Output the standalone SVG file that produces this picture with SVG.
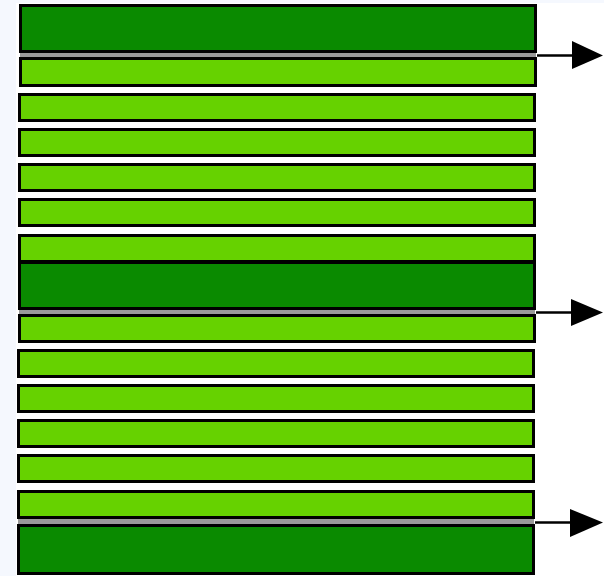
<svg xmlns="http://www.w3.org/2000/svg" width="604" height="576" viewBox="0 0 604 576">
<style>
.lt{fill:#66d200;stroke:#000;stroke-width:3}
.dk{fill:#0a8a00;stroke:#000;stroke-width:3}
.gr{fill:#999;stroke:none}
.ln{stroke:#000;stroke-width:2.5;fill:none}
.ah{fill:#000}
</style>
<rect x="0" y="0" width="604" height="576" fill="#f5f8fe"/>
<rect x="16" y="3" width="588" height="573" fill="#fff"/>
<g id="block1">
<rect class="dk" x="20.5" y="5.5" width="515" height="46"/>
<rect class="gr" x="20" y="53" width="516" height="4"/>
<rect class="lt" x="20.5" y="58.5" width="515" height="27"/>
</g>
<g id="bar2"><rect class="lt" x="19.5" y="94.5" width="515" height="26"/></g>
<g id="bar3"><rect class="lt" x="19.5" y="129.5" width="515" height="26"/></g>
<g id="bar4"><rect class="lt" x="19.5" y="164.5" width="515" height="26"/></g>
<g id="bar5"><rect class="lt" x="19.5" y="199.5" width="515" height="26"/></g>
<g id="block2">
<rect class="lt" x="19.5" y="235.5" width="515" height="26"/>
<rect class="dk" x="19.5" y="262.5" width="515" height="46"/>
<rect class="gr" x="19" y="310" width="516" height="4"/>
<rect class="lt" x="19.5" y="315.5" width="515" height="26"/>
</g>
<g id="bar7"><rect class="lt" x="18.5" y="350.5" width="515" height="26"/></g>
<g id="bar8"><rect class="lt" x="18.5" y="385.5" width="515" height="26"/></g>
<g id="bar9"><rect class="lt" x="18.5" y="420.5" width="515" height="26"/></g>
<g id="bar10"><rect class="lt" x="18.5" y="455.5" width="515" height="26"/></g>
<g id="block3">
<rect class="lt" x="18.5" y="491.5" width="515" height="26"/>
<rect class="gr" x="18" y="519" width="516" height="5"/>
<rect class="dk" x="18.5" y="525.5" width="515" height="48"/>
</g>
<g id="connectors">
<line class="ln" x1="537" y1="55.5" x2="574" y2="55.5"/>
<polygon class="ah" points="572,41 603,55.5 572,69"/>
<line class="ln" x1="536" y1="312.5" x2="573" y2="312.5"/>
<polygon class="ah" points="571,299 603,312.5 571,326"/>
<line class="ln" x1="535" y1="522.5" x2="572" y2="522.5"/>
<polygon class="ah" points="570,509 603,522.5 570,537"/>
</g>
</svg>
